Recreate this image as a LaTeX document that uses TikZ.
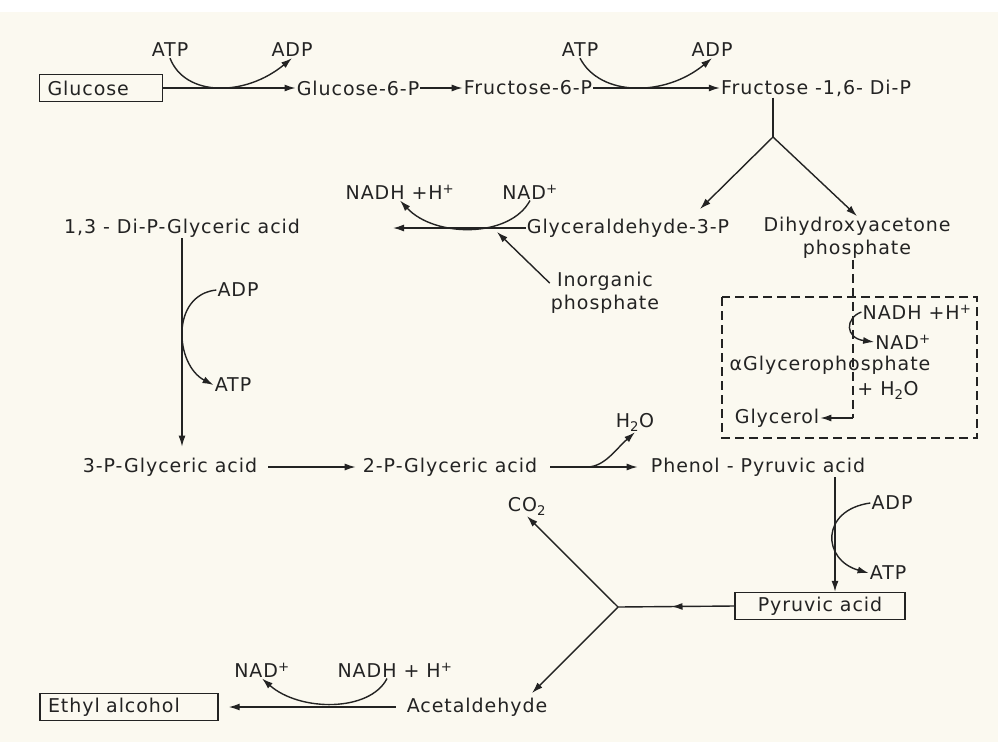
\documentclass[tikz,border=0pt]{standalone}
\usepackage{fontspec}
\setmainfont[LetterSpace=5]{DejaVu Sans}
\usetikzlibrary{arrows.meta,calc,decorations.markings}
\definecolor{paper}{RGB}{251,249,240}
\definecolor{ink}{RGB}{35,35,35}
\tikzset{
  lbl/.style={inner sep=1pt, text=ink, font=\fontsize{19}{23}\selectfont},
  box/.style={lbl, draw=ink, line width=1.4pt, inner xsep=8pt, minimum height=27pt},
  ln/.style={draw=ink, line width=1.4pt},
  rxn/.style={ln, -{Latex[length=11pt,width=7pt]}},
  dsh/.style={ln, dash pattern=on 9pt off 5pt},
  midarrow/.style={ln, decoration={markings, mark=at position #1 with {\arrow{Latex[length=11pt,width=7pt]}}}, postaction={decorate}}
}
\begin{document}
\begin{tikzpicture}[x=1pt,y=-1pt]
\fill[paper] (0,0) rectangle (998,742);
\fill[white] (0,0) rectangle (998,12);
\useasboundingbox (0,0) rectangle (998,742);
\node[box, text width=107pt, align=left] (glc) at (101,88) {Glucose};
\node[lbl] (atp1) at (170,50) {ATP};
\node[lbl] (adp1) at (292,50) {ADP};
\node[lbl] (g6p) at (358,88) {Glucose-6-P};
\node[lbl] (f6p) at (528,88) {Fructose-6-P};
\node[lbl] (atp2) at (580,50) {ATP};
\node[lbl] (adp2) at (712,50) {ADP};
\node[lbl] (f16) at (816,88) {Fructose -1,6- Di-P};
\coordinate (fork1) at (773,137);
\draw[rxn] (glc.east) -- (g6p.west);
\draw[rxn] (atp1.south) .. controls (185,97) and (245,97) .. (adp1.south);
\draw[rxn] (g6p.east) -- (f6p.west);
\draw[rxn] (f6p.east) -- (f16.west);
\draw[rxn] (atp2.south) .. controls (600,97) and (665,97) .. (adp2.south);
\draw[ln] (f16.south -| fork1) -- (fork1);
\node[lbl] (dpg13) at (182,228) {1,3 - Di-P-Glyceric acid};
\node[lbl] (nadh1) at (400,192) {NADH +H\textsuperscript{+}};
\node[lbl] (nad1) at (530,192) {NAD\textsuperscript{+}};
\node[lbl] (gap) at (628,228) {Glyceraldehyde-3-P};
\node[lbl, align=center] (dhap) at (857,238) {Dihydroxyacetone\\phosphate};
\node[lbl, align=center] (inorg) at (605,293) {Inorganic\\phosphate};
\coordinate (tipg) at (700,209);
\coordinate (tip1) at (393,228);
\coordinate (ipt) at (497,232);
\draw[rxn] (fork1) -- (tipg);
\draw[rxn] (fork1) -- (dhap.north);
\draw[rxn] (gap.west) -- (tip1);
\draw[rxn] (nad1.south) .. controls (510,238) and (435,238) .. (nadh1.south);
\draw[rxn] ($(inorg.north west)+(0,12)$) -- (ipt);
\node[lbl] (adp3) at (238,290) {ADP};
\node[lbl] (atp3) at (233,385) {ATP};
\node[lbl] (pg3) at (170,467) {3-P-Glyceric acid};
\draw[rxn, shorten >=10pt] (dpg13.south) -- (dpg13.south |- pg3.north);
\draw[rxn] (adp3.west) .. controls (170,295) and (175,365) .. (atp3.west);
\node[lbl] (pg2) at (450,467) {2-P-Glyceric acid};
\node[lbl] (pep) at (758,467) {Phenol - Pyruvic acid};
\node[lbl] (h2o) at (635,422) {H\textsubscript{2}O};
\coordinate (hb) at (588,467);
\draw[rxn, shorten <=10pt, shorten >=6pt] (pg3.east) -- (pg2.west);
\draw[rxn, shorten <=12pt, shorten >=12pt] (pg2.east) -- (pep.west);
\draw[rxn] (hb) .. controls (605,466) and (615,450) .. (h2o.south);
\node[lbl] (adp4) at (892,503) {ADP};
\node[lbl] (atp4) at (888,573) {ATP};
\node[box, minimum width=170pt] (pyr) at (820,606) {Pyruvic acid};
\draw[rxn] (pep.south -| 835,0) -- (pyr.north -| 835,0);
\draw[rxn] (adp4.west) .. controls (820,510) and (822,560) .. (atp4.west);
\coordinate (jn) at (618,607);
\node[lbl] (co2) at (527,506) {CO\textsubscript{2}};
\node[lbl] (ald) at (477,707) {Acetaldehyde};
\node[box, text width=162pt, align=left] (eth) at (129,707) {Ethyl alcohol};
\node[lbl] (nad2) at (262,670) {NAD\textsuperscript{+}};
\node[lbl] (nadh2) at (395,670) {NADH + H\textsuperscript{+}};
\coordinate (tipa) at (532,693);
\draw[midarrow=0.54] (pyr.west) -- (jn);
\draw[rxn] (jn) -- (co2.south);
\draw[rxn] (jn) -- (tipa);
\draw[rxn, shorten <=10pt, shorten >=10pt] (ald.west) -- (eth.east);
\draw[rxn] ($(nadh2.south)+(-8,0)$) .. controls (370,712) and (300,712) .. (nad2.south);
\draw[dsh] (722,297) rectangle (977,438);
\node[lbl] (nadh3) at (917,312) {NADH +H\textsuperscript{+}};
\node[lbl] (nad3) at (903,342) {NAD\textsuperscript{+}};
\node[lbl] (agp) at (830,365) {αGlycerophosphate};
\node[lbl] (h2o2) at (888,390) {+ H\textsubscript{2}O};
\node[lbl] (gly) at (777,418) {Glycerol};
\coordinate (dv) at (853,418);
\draw[dsh] (dhap.south -| dv) -- (dv);
\draw[rxn] (dv) -- (gly.east);
\draw[rxn] (nadh3.west) .. controls (845,318) and (845,338) .. (nad3.west);
\end{tikzpicture}
\end{document}
